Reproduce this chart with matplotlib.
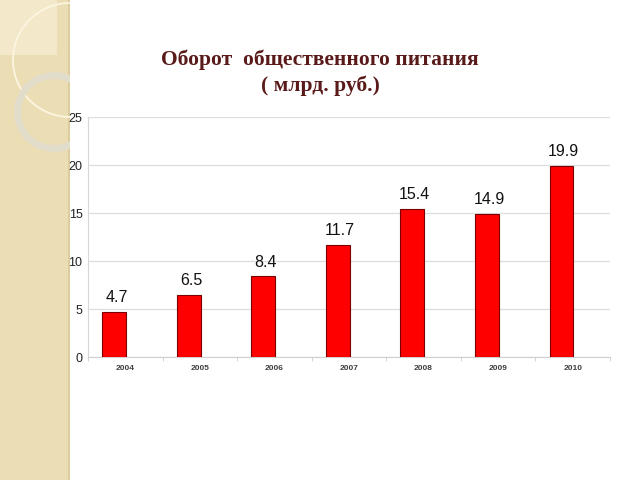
import numpy as np
import matplotlib.pyplot as plt
from matplotlib.patches import Rectangle, Circle

years = ['2004', '2005', '2006', '2007', '2008', '2009', '2010']
values = [4.7, 6.5, 8.4, 11.7, 15.4, 14.9, 19.9]
labels = ['4.7', '6.5', '8.4', '11.7', '15.4', '14.9', '19.9']

fig = plt.figure(figsize=(6.4, 4.8), dpi=100)
W, H = 640.0, 480.0

# decorative strip on the left (pixel coordinates inside its own axes)
axbg = fig.add_axes([0, 0, 70 / W, 1], zorder=0)
axbg.set_xlim(0, 70)
axbg.set_ylim(H, 0)
axbg.axis('off')
axbg.add_patch(Rectangle((0, 0), 70, H, facecolor='#ecdeb4', edgecolor='none'))
axbg.add_patch(Rectangle((0, 0), 57, 55, facecolor='#f3e8c9', edgecolor='none'))
axbg.add_patch(Rectangle((67.5, 0), 2.5, H, facecolor='#ddcc9e', edgecolor='none'))
axbg.add_patch(Circle((70, 60), 57, facecolor='none', edgecolor='#fbf5e2', lw=1.3))
axbg.add_patch(Circle((54, 112), 36.5, facecolor='none', edgecolor='#e2dccb', lw=5))

ax = fig.add_axes([88 / W, 1 - 357 / H, 522 / W, 240 / H], zorder=1)
ax.patch.set_alpha(0)
x = np.arange(len(years))
ax.bar(x - 0.15, values, width=0.32, color='#ff0000', edgecolor='#7a0000', linewidth=0.8, zorder=3)
for xi, v, lab in zip(x, values, labels):
    ax.text(xi - 0.12, v + 0.7, lab, ha='center', va='bottom', fontsize=11.5,
            family='Liberation Sans', color='#111111')

ax.set_xlim(-0.5, 6.5)
ax.set_ylim(0, 25)
ax.set_yticks([0, 5, 10, 15, 20, 25])
ax.set_xticks(x)
ax.set_xticklabels(years, fontsize=6, fontweight='bold', family='Liberation Sans', color='#404040')
ax.set_xticks(np.arange(-0.5, 7, 1), minor=True)
ax.tick_params(axis='x', which='major', length=0, pad=6)
ax.tick_params(axis='x', which='minor', length=3, color='#cccccc')
ax.tick_params(axis='y', length=0, pad=4, labelsize=9, labelcolor='#222222')
for t in ax.get_yticklabels():
    t.set_family('Liberation Sans')
ax.grid(axis='y', color='#dddddd', linewidth=0.9, zorder=0)
for s in ['top', 'right']:
    ax.spines[s].set_visible(False)
ax.spines['left'].set_color('#d8d8d8')
ax.spines['bottom'].set_color('#d0d0d0')

fig.text(320 / W, 1 - 60 / H, 'Оборот  общественного питания', ha='center', va='center',
         fontsize=15.5, fontweight='bold', family='Liberation Serif', color='#5a1a1a')
fig.text(320 / W, 1 - 86 / H, '( млрд. руб.)', ha='center', va='center',
         fontsize=15.5, fontweight='bold', family='Liberation Serif', color='#5a1a1a')

plt.savefig('out.png', dpi=100)
plt.close()
